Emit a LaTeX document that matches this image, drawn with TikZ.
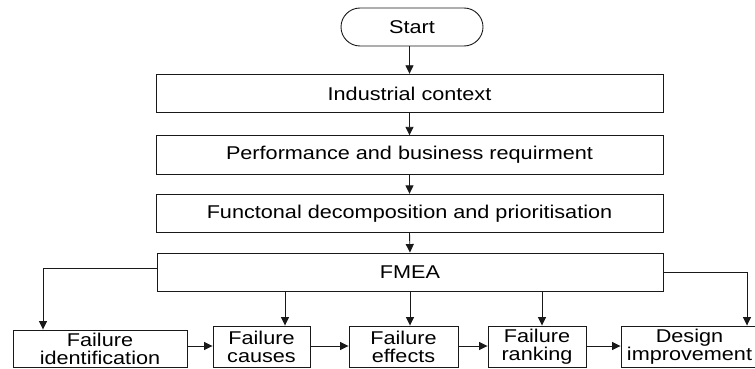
\documentclass[tikz,border=0pt]{standalone}
\usepackage{fontspec}
\setmainfont[FakeStretch=1.17]{Liberation Sans}
\usetikzlibrary{arrows.meta}
\begin{document}
\begin{tikzpicture}[x=1pt,y=-1pt,
  every node/.style={font=\fontsize{18.5}{18}\selectfont, inner sep=0pt, align=center},
  box/.style={draw=black!90, line width=0.9pt, rectangle},
  wide/.style={box, minimum width=507pt, minimum height=38.5pt},
  small/.style={box, minimum height=41pt},
  conn/.style={draw=black!90, line width=0.9pt, -{Triangle[length=8.5pt,width=8pt]}}
]
\useasboundingbox (0,0) rectangle (755,369);
\node[box, rounded corners=19pt, minimum width=142pt, minimum height=38pt] (start) at (412,27) {Start};
\node[wide] (ind) at (409.5,93.5) {Industrial context};
\node[wide] (perf) at (409.5,155) {Performance and business requirment};
\node[wide] (func) at (409.5,213.5) {Functonal decomposition and prioritisation};
\node[box, minimum width=506pt, minimum height=38pt] (fmea) at (410,272) {FMEA};
\node[box, minimum width=174pt, minimum height=37pt] (fi) at (100,348.5) {Failure\\identification};
\node[small, minimum width=97pt] (fc) at (261.5,346.5) {Failure\\causes};
\node[small, minimum width=109pt] (fe) at (403.5,346.5) {Failure\\effects};
\node[small, minimum width=98pt] (fr) at (537,346.5) {Failure\\ranking};
\node[small, minimum width=137pt] (di) at (689.5,346.5) {Design\\improvement};
\coordinate (lx) at (43,268);
\coordinate (rx) at (747,272);
\draw[conn] (start.south -| ind.north) -- (ind.north);
\draw[conn] (ind.south) -- (perf.north);
\draw[conn] (perf.south) -- (func.north);
\draw[conn] (func.south) -- (fmea.north);
\draw[conn] (fmea.west |- lx) -- (lx) -- (lx |- fi.north);
\draw[conn] (fmea.east |- rx) -- (rx) -- (rx |- di.north);
\draw[conn] (fmea.south -| 285,0) -- (fc.north -| 285,0);
\draw[conn] (fmea.south -| 410,0) -- (fe.north -| 410,0);
\draw[conn] (fmea.south -| 542,0) -- (fr.north -| 542,0);
\draw[conn] (fi.east |- 0,346) -- (fc.west |- 0,346);
\draw[conn] (fc.east |- 0,346) -- (fe.west |- 0,346);
\draw[conn] (fe.east |- 0,346) -- (fr.west |- 0,346);
\draw[conn] (fr.east |- 0,346) -- (di.west |- 0,346);
\end{tikzpicture}
\end{document}
